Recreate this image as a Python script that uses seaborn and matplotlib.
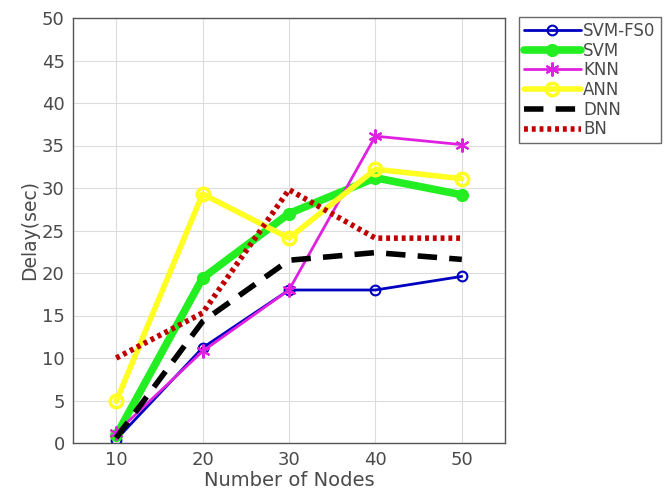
import matplotlib
matplotlib.use("Agg")
import matplotlib.pyplot as plt
import seaborn as sns
import pandas as pd

nodes = [10, 20, 30, 40, 50]
svm_fso = [0.4, 11.2, 18.0, 18.0, 19.6]
svm = [0.9, 19.4, 27.0, 31.2, 29.2]
knn = [1.2, 10.8, 18.0, 36.1, 35.1]
ann = [4.9, 29.3, 24.1, 32.2, 31.1]
dnn = [0.6, 14.3, 21.5, 22.4, 21.6]
bn = [10.0, 15.3, 29.8, 24.1, 24.1]

series_names = ["SVM-FS0", "SVM", "KNN", "ANN", "DNN", "BN"]
series_vals = [svm_fso, svm, knn, ann, dnn, bn]

sns.set_style("white")
plt.rcParams['font.family'] = ['DejaVu Sans']

fig = plt.figure(figsize=(6.69, 5.01), dpi=100)
ax = fig.add_axes([73/669, 1-443/501, (505-73)/669, (443-18)/501])

styles = {
    "SVM-FS0": dict(color="#0000c0", lw=2.0, marker="o", ms=7, mfc="none", mew=1.5, ls="-"),
    "SVM": dict(color="#22ee22", lw=5.5, marker="o", ms=8, mfc="#22ee22", mew=1.5, ls="-"),
    "KNN": dict(color="#e020e0", lw=2.0, marker=(6, 2, 0), ms=10, mfc="#e020e0", mew=1.5, ls="-"),
    "ANN": dict(color="#ffff22", lw=4.0, marker="o", ms=9, mfc="none", mew=2.5, ls="-"),
    "DNN": dict(color="#000000", lw=4.0, marker=None, ls=(0, (3.5, 2.2))),
    "BN": dict(color="#c00000", lw=4.0, marker=None, ls=(0, (0.7, 0.7))),
}

for name, vals in zip(series_names, series_vals):
    df = pd.DataFrame({"Nodes": nodes, "Delay": vals})
    st = styles[name]
    kw = dict(color=st["color"], linewidth=st["lw"], linestyle=st["ls"])
    if st["marker"]:
        kw.update(marker=st["marker"], markersize=st["ms"], markerfacecolor=st["mfc"],
                  markeredgecolor=st["color"], markeredgewidth=st["mew"])
    sns.lineplot(data=df, x="Nodes", y="Delay", ax=ax, label=name, **kw)

txt = "#4a4a4a"
ax.set_xlim(5, 55)
ax.set_ylim(0, 50)
ax.set_xticks([10, 20, 30, 40, 50])
ax.set_yticks(range(0, 51, 5))
ax.grid(True, color="#dcdcdc", linewidth=0.8)
ax.tick_params(direction="in", length=4, labelsize=13, colors="#555555", labelcolor=txt, pad=6)
for s in ax.spines.values():
    s.set_color("#555555")
    s.set_linewidth(1.0)
ax.set_xlabel("Number of Nodes", fontsize=14, color=txt, labelpad=1)
ax.set_ylabel("Delay(sec)", fontsize=13.5, color=txt, labelpad=2)

leg = ax.legend(loc="upper left", bbox_to_anchor=(519/669, 1-17/501), bbox_transform=fig.transFigure,
                frameon=True, fancybox=False, fontsize=12, handlelength=3.4, handletextpad=0.15,
                borderpad=0.3, labelspacing=0.1, borderaxespad=0)
leg.get_frame().set_edgecolor("#444444")
leg.get_frame().set_linewidth(1.0)
for t in leg.get_texts():
    t.set_color(txt)

fig.savefig("out.png", dpi=100)
